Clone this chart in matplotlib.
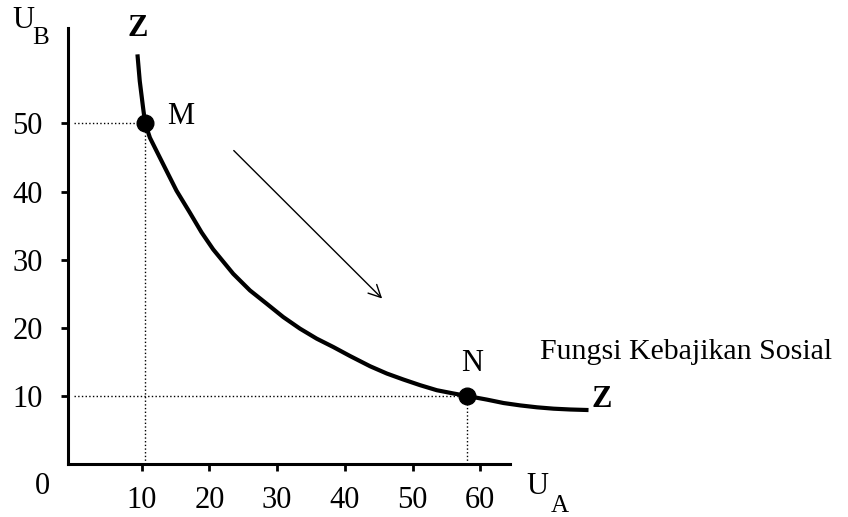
import matplotlib
matplotlib.use('Agg')
import matplotlib.pyplot as plt
import numpy as np

plt.rcParams['font.family'] = ['Liberation Serif', 'DejaVu Serif']

# curve Z (social welfare function)
curve_x = [9.36, 9.70, 10.19, 10.5, 11.2, 12.17, 13.65, 15.13, 17.10, 18.83, 20.55,
           23.51, 25.98, 28.45, 30.90, 33.37, 35.84, 38.30, 40.77, 43.73, 46.20,
           48.65, 51.12, 53.59, 56.05, 58.0, 61.0, 63.45, 65.92, 68.39, 70.84, 73.31, 76.0]
curve_y = [60.13, 56.22, 52.31, 50.0, 47.9, 45.97, 43.04, 40.12, 36.9, 34.0, 31.5,
           27.92, 25.48, 23.53, 21.57, 19.87, 18.40, 17.17, 15.85, 14.35, 13.28,
           12.40, 11.57, 10.83, 10.35, 10.0, 9.45, 8.95, 8.6, 8.32, 8.12, 8.0, 7.92]

point_names = ['M', 'N']
point_x = [10.5, 58.0]
point_y = [50.0, 10.0]

xticks = [10, 20, 30, 40, 50, 60]
yticks = [10, 20, 30, 40, 50]

W, H = 848, 517
fig = plt.figure(figsize=(W / 100, H / 100), dpi=100)
ax = fig.add_axes([68 / W, 1 - 464 / H, 442 / W, 436 / H])

ax.set_xlim(-0.9, 64.4)
ax.set_ylim(0, 64)
for s in ['top', 'right']:
    ax.spines[s].set_visible(False)
for s in ['left', 'bottom']:
    ax.spines[s].set_linewidth(2.2)

ax.set_xticks(xticks)
ax.set_yticks(yticks)
ax.tick_params(axis='both', direction='out', length=5, width=2, labelsize=22)
ax.tick_params(axis='y', pad=13)
ax.tick_params(axis='x', pad=11)

# dotted guide lines
for px, py in zip(point_x, point_y):
    ax.plot([0, px], [py, py], ':', color='black', lw=1)
    ax.plot([px, px], [0, py], ':', color='black', lw=1)

ax.plot(curve_x, curve_y, color='black', lw=3, clip_on=False,
        solid_capstyle='butt', solid_joinstyle='round')
ax.plot(point_x, point_y, 'o', color='black', markersize=12, clip_on=False, zorder=5)

ax.annotate('', xy=(45.8, 24.0), xytext=(23.3, 46.3),
            arrowprops=dict(arrowstyle='->', color='black', lw=1, mutation_scale=22))

fs = 22
ax.text(15.8, 51.0, point_names[0], fontsize=fs, ha='center', va='center')
ax.text(58.8, 14.8, point_names[1], fontsize=fs, ha='center', va='center')
ax.text(9.4, 64.0, 'Z', fontsize=fs, fontweight='bold', ha='center', va='center', clip_on=False)
ax.text(77.9, 9.4, 'Z', fontsize=fs, fontweight='bold', ha='center', va='center', clip_on=False)
ax.text(68.8, 16.5, 'Fungsi Kebajikan Sosial', fontsize=21.5, ha='left', va='center', clip_on=False)

# axis labels with subscripts
fig.text(23 / W, 1 - 21 / H, 'U', fontsize=fs, ha='center', va='center')
fig.text(41 / W, 1 - 38 / H, 'B', fontsize=18, ha='center', va='center')
fig.text(537 / W, 1 - 487 / H, 'U', fontsize=fs, ha='center', va='center')
fig.text(560 / W, 1 - 506 / H, 'A', fontsize=18, ha='center', va='center')
fig.text(42 / W, 1 - 486 / H, '0', fontsize=fs, ha='center', va='center')

fig.savefig('out.png', dpi=100)
